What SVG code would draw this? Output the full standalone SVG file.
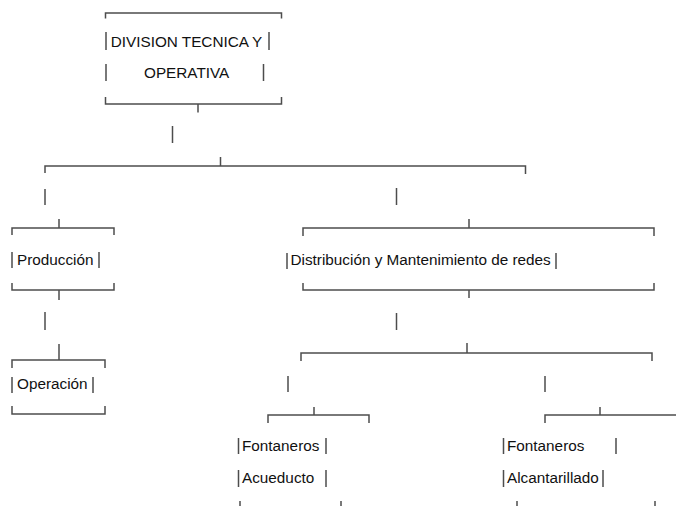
<svg xmlns="http://www.w3.org/2000/svg" width="676" height="506" viewBox="0 0 676 506">
<style>
.ln{stroke:#4d4d4d;stroke-width:1.5;fill:none;stroke-linecap:butt}
.t{font-family:"Liberation Sans",Arial,sans-serif;font-size:15.3px;fill:#111}
</style>
<rect width="676" height="506" fill="#fff"/>
<g id="connectors" class="ln">
<path d="M198 104V112.5"/>
<path d="M172.5 126V143"/>
<path d="M45 173V166H525.5V174M220.5 157V166"/>
<path d="M45 189V205"/>
<path d="M396.5 188V205"/>
<path d="M59 219V228"/>
<path d="M469 219V228"/>
<path d="M59 290V300"/>
<path d="M45 312V330"/>
<path d="M59 344V360"/>
<path d="M469 290V298"/>
<path d="M396.5 313V330"/>
<path d="M301 361V353H652V361M467 343V353"/>
<path d="M288 376V392"/>
<path d="M545 376V392"/>
<path d="M314 407V415"/>
<path d="M600 407V415"/>
</g>
<g id="n-division">
<path class="ln" d="M105.5 18.5V13H281.5V18.5M105.5 97V104H281.5V97M106 32V50M269 32V50M106 64V81M263.5 64V81"/>
<text class="t" x="110.7" y="46.5">DIVISION TECNICA Y</text>
<text class="t" x="144" y="77.5">OPERATIVA</text>
</g>
<g id="n-produccion">
<path class="ln" d="M12 235V228H114V235M12 283V290H114V283M12 252V268M99 252V268"/>
<text class="t" x="17" y="264.5">Producción</text>
</g>
<g id="n-operacion">
<path class="ln" d="M12 368V360H105V368M12 406V414H105V406M12 377V393M93 377V393"/>
<text class="t" x="17" y="389">Operación</text>
</g>
<g id="n-distribucion">
<path class="ln" d="M303 236V228H654V236M303 283V290H654V283M287 253V269M556 253V269"/>
<text class="t" x="290.5" y="265">Distribución y Mantenimiento de redes</text>
</g>
<g id="n-fontaneros-acueducto">
<path class="ln" d="M268 423V415H369V423M238.5 438V454M326 438V454M238.5 470V487M326 470V487M240 501V507M341 501V507"/>
<text class="t" x="242" y="450.5">Fontaneros</text>
<text class="t" x="242" y="483">Acueducto</text>
</g>
<g id="n-fontaneros-alcantarillado">
<path class="ln" d="M545 423V415H677M503.5 438V454M616 438V454M503.5 470V487M603 470V487M517 501V507M655 501V507"/>
<text class="t" x="507" y="450.5">Fontaneros</text>
<text class="t" x="507" y="483">Alcantarillado</text>
</g>
</svg>
